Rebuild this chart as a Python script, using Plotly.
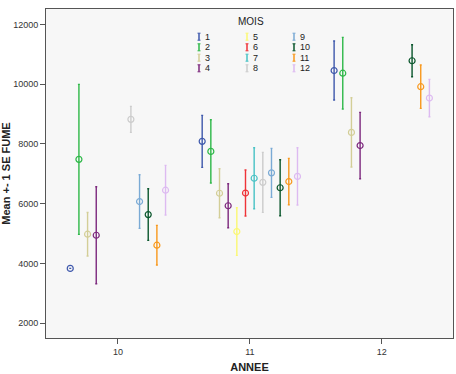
import plotly.graph_objects as go

years = [10, 11, 12]
months = ["1", "2", "3", "4", "5", "6", "7", "8", "9", "10", "11", "12"]
colors = ["#3E58AC", "#2EB848", "#D3CE97", "#7C287D", "#FBF873", "#EF3338",
          "#48C2C5", "#CCCCCC", "#7AAAD5", "#0A562C", "#F8981D", "#DDBAF1"]

# mean FUME per month for each year (None = no data)
mean_10 = [3832, 7484, 4976, 4941, None, None, None, 8824, 6070, 5634, 4608, 6450]
se_10 = [None, 2512, 730, 1625, None, None, None, 436, 898, 865, 665, 832]
mean_11 = [8087, 7750, 6348, 5930, 5065, 6355, 6851, 6713, 7032, 6533, 6740, 6913]
se_11 = [871, 1060, 820, 737, 797, 770, 1022, 1005, 821, 938, 777, 960]
mean_12 = [10459, 10370, 8387, 7946, None, None, None, None, None, 10787, 9918, 9537]
se_12 = [988, 1201, 1161, 1112, None, None, None, None, None, 536, 725, 626]

yticks = [2000, 4000, 6000, 8000, 10000, 12000]

fig = go.Figure()
for i, m in enumerate(months):
    fig.add_trace(go.Scatter(
        x=years,
        y=[mean_10[i], mean_11[i], mean_12[i]],
        mode="markers",
        name=m,
        offsetgroup=m,
        marker=dict(symbol="circle-open", size=6, color=colors[i], line=dict(width=1.2)),
        error_y=dict(type="data", array=[se_10[i], se_11[i], se_12[i]],
                     color=colors[i], thickness=1.4, width=1),
        showlegend=False,
    ))

# plot area in pixels
L, R, T, B = 46, 453, 9, 338
W, H = 456, 374


def px(x):
    return (x - L) / (R - L)


def py(y):
    return (B - y) / (B - T)


shapes = []
annotations = [dict(text="MOIS", x=px(251), y=py(22), xref="paper", yref="paper",
                    showarrow=False, font=dict(size=10, color="#222"),
                    xanchor="center", yanchor="middle")]
col_x = [199, 247, 294]
row_y = [36.7, 47.3, 57.7, 68.3]
for i, m in enumerate(months):
    cx = col_x[i // 4]
    cy = row_y[i % 4]
    c = colors[i]
    shapes.append(dict(type="line", xref="paper", yref="paper", x0=px(cx), x1=px(cx),
                       y0=py(cy - 3.5), y1=py(cy + 3.5), line=dict(color=c, width=1.5)))
    for dy in (-3.5, 3.5):
        shapes.append(dict(type="line", xref="paper", yref="paper", x0=px(cx - 1.5), x1=px(cx + 1.5),
                           y0=py(cy + dy), y1=py(cy + dy), line=dict(color=c, width=1)))
    annotations.append(dict(text=m, x=px(cx + 4), y=py(cy), xref="paper", yref="paper",
                            showarrow=False, font=dict(size=9, color="#222"),
                            xanchor="left", yanchor="middle"))

fig.update_layout(
    width=W, height=H,
    margin=dict(l=L, r=W - R, t=T, b=H - B),
    paper_bgcolor="white",
    plot_bgcolor="#F7F7F7",
    font=dict(family="Liberation Sans, Arial, sans-serif", size=9, color="#333"),
    scattermode="group",
    scattergap=0.212,
    shapes=shapes,
    annotations=annotations,
    xaxis=dict(
        range=[9.455, 12.54], tickvals=years, ticktext=[str(y) for y in years],
        showgrid=False, zeroline=False, showline=True, linecolor="#555", linewidth=1,
        mirror=True, ticks="outside", ticklen=5, tickcolor="#555", automargin=False,
        tickfont=dict(size=9, color="#333"),
        title=dict(text="<b>ANNEE</b>", font=dict(size=11, color="#222"), standoff=7),
    ),
    yaxis=dict(
        range=[1500, 12520], tickvals=yticks, ticktext=[str(v) for v in yticks],
        showgrid=False, zeroline=False, automargin=False,
        showline=True, linecolor="#555", linewidth=1, mirror=True,
        ticks="outside", ticklen=5, tickcolor="#555",
        tickfont=dict(size=9, color="#333"),
        title=dict(text="<b>Mean +- 1 SE FUME</b>", font=dict(size=11, color="#222"), standoff=1),
    ),
)

fig.write_html("out.html", config={"displayModeBar": False},
               post_script="document.body.style.margin='0';")
